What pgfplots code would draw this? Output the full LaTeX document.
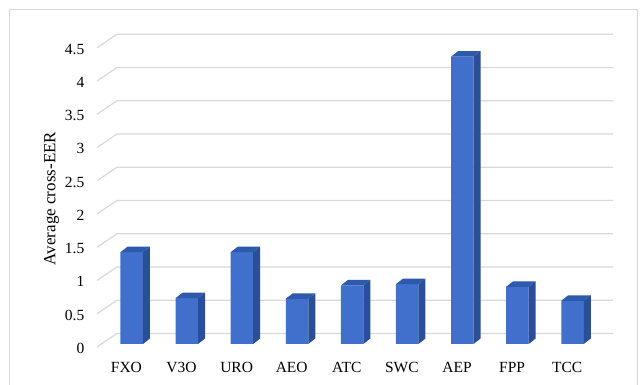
\documentclass[border=0pt]{standalone}
\usepackage{fontspec}
\setmainfont{Liberation Serif}
\usepackage{pgfplots}
\usepackage{pgfplotstable}
\pgfplotsset{compat=1.18}

\definecolor{gridgray}{HTML}{D9D9D9}
\definecolor{framegray}{HTML}{D9D9D9}
\definecolor{barfront}{HTML}{4070CC}
\definecolor{barside}{HTML}{2A4E98}
\definecolor{bartop}{HTML}{2E5AAE}

% average cross-EER per setting
\pgfplotstableread{
idx name val
0 FXO 1.38
1 V3O 0.69
2 URO 1.38
3 AEO 0.68
4 ATC 0.88
5 SWC 0.90
6 AEP 4.32
7 FPP 0.86
8 TCC 0.65
}\eerdata

\begin{document}
\begin{tikzpicture}
\useasboundingbox (0,0) rectangle (640pt,385pt);
% chart frame
\draw[framegray, line width=0.9pt] (9pt,-10pt) -- (9pt,376pt) -- (637pt,376pt) -- (637pt,-10pt);
\begin{axis}[
  at={(97pt,41pt)}, anchor=south west,
  x=55.1pt, y=66.5pt,
  xmin=-0.63, xmax=8.9, ymin=0, ymax=4.8,
  clip=false,
  axis line style={draw=none},
  major tick length=0pt,
  xtick={0,...,8},
  xticklabels from table={\eerdata}{name},
  ytick={0,0.5,...,4.5},
  /pgf/number format/assume math mode=true,
  tick label style={font=\fontsize{15.5}{18}\selectfont, inner sep=0pt},
  xticklabel style={anchor=base, xshift=-5.3pt, yshift=-28.7pt},
  yticklabel style={anchor=base east, xshift=-12.5pt, yshift=-9.3pt},
]
% floor-to-wall gridlines
\pgfplotsinvokeforeach{0,0.5,...,4.5}{
  \draw[gridgray, line width=1.2pt]
    ([yshift=-3pt]axis cs:-0.63,#1) -- ([yshift=10.5pt]axis cs:-0.267,#1)
    -- ([yshift=10.5pt]axis cs:8.735,#1);
}
% front faces of the bars
\addplot[ybar, bar width=22.5pt, fill=barfront, draw=none]
  table[x=idx, y=val] {\eerdata};
% side and top faces
\pgfplotsinvokeforeach{0,...,8}{
  \pgfplotstablegetelem{#1}{val}\of\eerdata
  \edef\barfaces{%
    \noexpand\fill[barside] ([xshift=11.25pt]axis cs:#1,0)
      -- ([xshift=18.25pt,yshift=5.5pt]axis cs:#1,0)
      -- ([xshift=18.25pt,yshift=5.5pt]axis cs:#1,\pgfplotsretval)
      -- ([xshift=11.25pt]axis cs:#1,\pgfplotsretval) -- cycle;
    \noexpand\fill[bartop] ([xshift=-11.25pt]axis cs:#1,\pgfplotsretval)
      -- ([xshift=11.25pt]axis cs:#1,\pgfplotsretval)
      -- ([xshift=18.25pt,yshift=5.5pt]axis cs:#1,\pgfplotsretval)
      -- ([xshift=-4.25pt,yshift=5.5pt]axis cs:#1,\pgfplotsretval) -- cycle;
  }
  \barfaces
}
% y axis title
\node[rotate=90, anchor=center, font=\fontsize{17}{20}\selectfont]
  at (axis cs:-1.456,2.188) {Average cross-EER};
\end{axis}
\end{tikzpicture}
\end{document}
